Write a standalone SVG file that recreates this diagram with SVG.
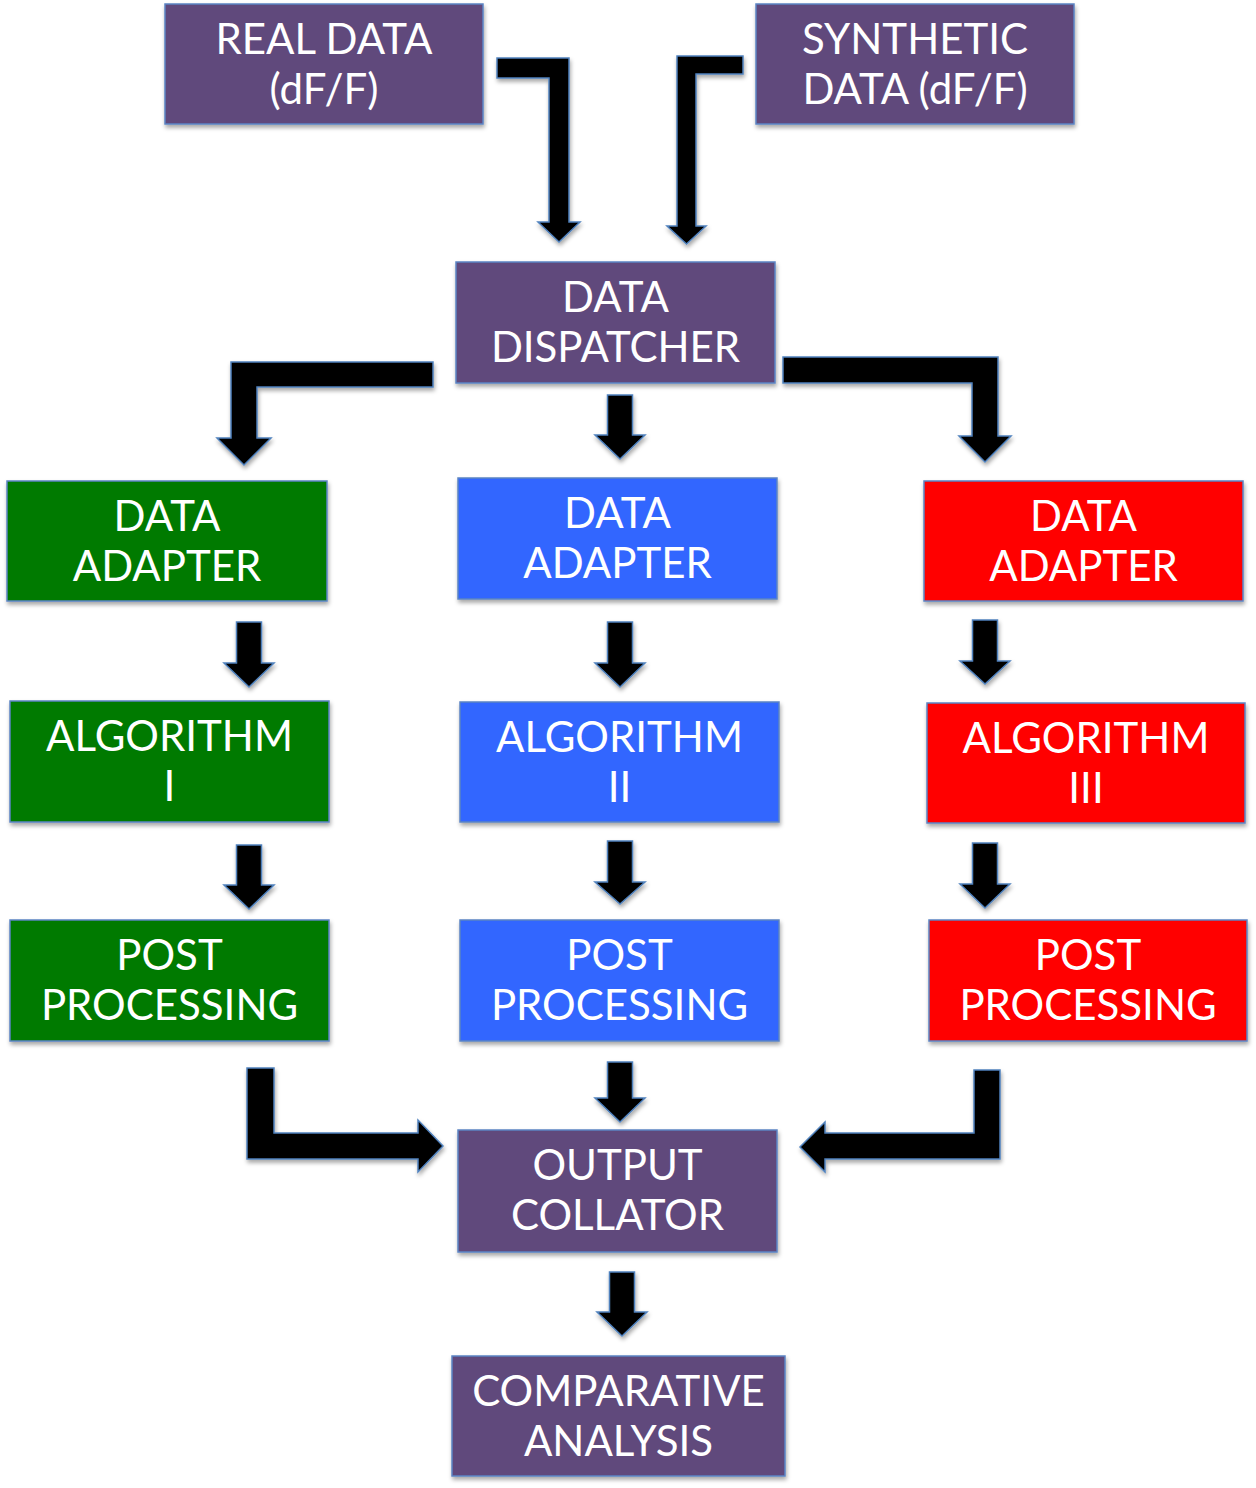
<svg xmlns="http://www.w3.org/2000/svg" width="1256" height="1488" viewBox="0 0 1256 1488">
<defs>
<filter id="sh" x="-10%" y="-10%" width="130%" height="130%">
<feDropShadow dx="1" dy="3" stdDeviation="2" flood-color="#000" flood-opacity="0.35"/>
</filter>
<style>
.box{stroke:#5b84c4;stroke-width:1.5;filter:url(#sh)}
.purple{fill:#604a7b}
.green{fill:#007a00}
.blue{fill:#3366ff}
.red{fill:#ff0000}
.t{font-family:Lato,"Liberation Sans",sans-serif;font-size:42px;fill:#fff;text-anchor:middle}
.arr{fill:#000;stroke:#4f81bd;stroke-width:1.5;stroke-linejoin:miter;filter:url(#sh)}
</style>
</defs>
<rect width="1256" height="1488" fill="#fff"/>
<g id="connectors">
<polygon class="arr" points="497,58 569,58 569,222 580,222 559,242 538,222 549,222 549,78 497,78"/>
<polygon class="arr" points="743,56 677,56 677,226 667,226 686.5,244 706,226 696,226 696,74 743,74"/>
<polygon class="arr" points="433,362 231,362 231,438 217,438 244,465 271,438 257,438 257,387 433,387"/>
<polygon class="arr" points="783,357 998,357 998,436 1011,436 985,462 959,436 972,436 972,383 783,383"/>
<polygon class="arr" points="247,1068 274,1068 274,1133 418,1133 418,1120 443,1146 418,1172 418,1159 247,1159"/>
<polygon class="arr" points="1000,1070 974,1070 974,1133 825,1133 825,1122 800,1147 825,1172 825,1159 1000,1159"/>
<polygon class="arr" points="607.5,395 632.5,395 632.5,435 645,435 620,459 595,435 607.5,435"/>
<polygon class="arr" points="236.5,622 261.5,622 261.5,663 274,663 249,687 224,663 236.5,663"/>
<polygon class="arr" points="607.5,622 632.5,622 632.5,663 645,663 620,687 595,663 607.5,663"/>
<polygon class="arr" points="972.5,620 997.5,620 997.5,661 1010,661 985,684 960,661 972.5,661"/>
<polygon class="arr" points="236.5,845 261.5,845 261.5,885 274,885 249,909 224,885 236.5,885"/>
<polygon class="arr" points="607.5,841 632.5,841 632.5,882 645,882 620,904 595,882 607.5,882"/>
<polygon class="arr" points="972.5,843 997.5,843 997.5,884 1010,884 985,908 960,884 972.5,884"/>
<polygon class="arr" points="607.5,1062 632.5,1062 632.5,1098 645,1098 620,1122 595,1098 607.5,1098"/>
<polygon class="arr" points="609.5,1272 634.5,1272 634.5,1312 647,1312 622,1336 597,1312 609.5,1312"/>
</g>
<g id="real-data"><rect class="box purple" x="165" y="4" width="318" height="120"/><text class="t" x="324" y="54">REAL DATA</text><text class="t" x="324" y="104">(dF/F)</text></g>
<g id="synthetic-data"><rect class="box purple" x="756" y="4" width="318" height="120"/><text class="t" x="915" y="54">SYNTHETIC</text><text class="t" x="915" y="104">DATA (dF/F)</text></g>
<g id="dispatcher"><rect class="box purple" x="456" y="262" width="319" height="121"/><text class="t" x="615.5" y="312">DATA</text><text class="t" x="615.5" y="362">DISPATCHER</text></g>
<g id="adapter-1"><rect class="box green" x="7" y="481" width="320" height="120"/><text class="t" x="167" y="531">DATA</text><text class="t" x="167" y="581">ADAPTER</text></g>
<g id="adapter-2"><rect class="box blue" x="458" y="478" width="319" height="121"/><text class="t" x="617.5" y="528">DATA</text><text class="t" x="617.5" y="578">ADAPTER</text></g>
<g id="adapter-3"><rect class="box red" x="924" y="481" width="319" height="120"/><text class="t" x="1083.5" y="531">DATA</text><text class="t" x="1083.5" y="581">ADAPTER</text></g>
<g id="algorithm-1"><rect class="box green" x="10" y="701" width="319" height="121"/><text class="t" x="169.5" y="751">ALGORITHM</text><text class="t" x="169.5" y="801">I</text></g>
<g id="algorithm-2"><rect class="box blue" x="460" y="702" width="319" height="120"/><text class="t" x="619.5" y="752">ALGORITHM</text><text class="t" x="619.5" y="802">II</text></g>
<g id="algorithm-3"><rect class="box red" x="927" y="703" width="318" height="120"/><text class="t" x="1086" y="753">ALGORITHM</text><text class="t" x="1086" y="803">III</text></g>
<g id="post-1"><rect class="box green" x="10" y="920" width="319" height="121"/><text class="t" x="169.5" y="970">POST</text><text class="t" x="169.5" y="1020">PROCESSING</text></g>
<g id="post-2"><rect class="box blue" x="460" y="920" width="319" height="121"/><text class="t" x="619.5" y="970">POST</text><text class="t" x="619.5" y="1020">PROCESSING</text></g>
<g id="post-3"><rect class="box red" x="929" y="920" width="318" height="121"/><text class="t" x="1088" y="970">POST</text><text class="t" x="1088" y="1020">PROCESSING</text></g>
<g id="collator"><rect class="box purple" x="458" y="1130" width="319" height="122"/><text class="t" x="617.5" y="1180">OUTPUT</text><text class="t" x="617.5" y="1230">COLLATOR</text></g>
<g id="comparative"><rect class="box purple" x="452" y="1356" width="333" height="120"/><text class="t" x="618.5" y="1406">COMPARATIVE</text><text class="t" x="618.5" y="1456">ANALYSIS</text></g>
</svg>
